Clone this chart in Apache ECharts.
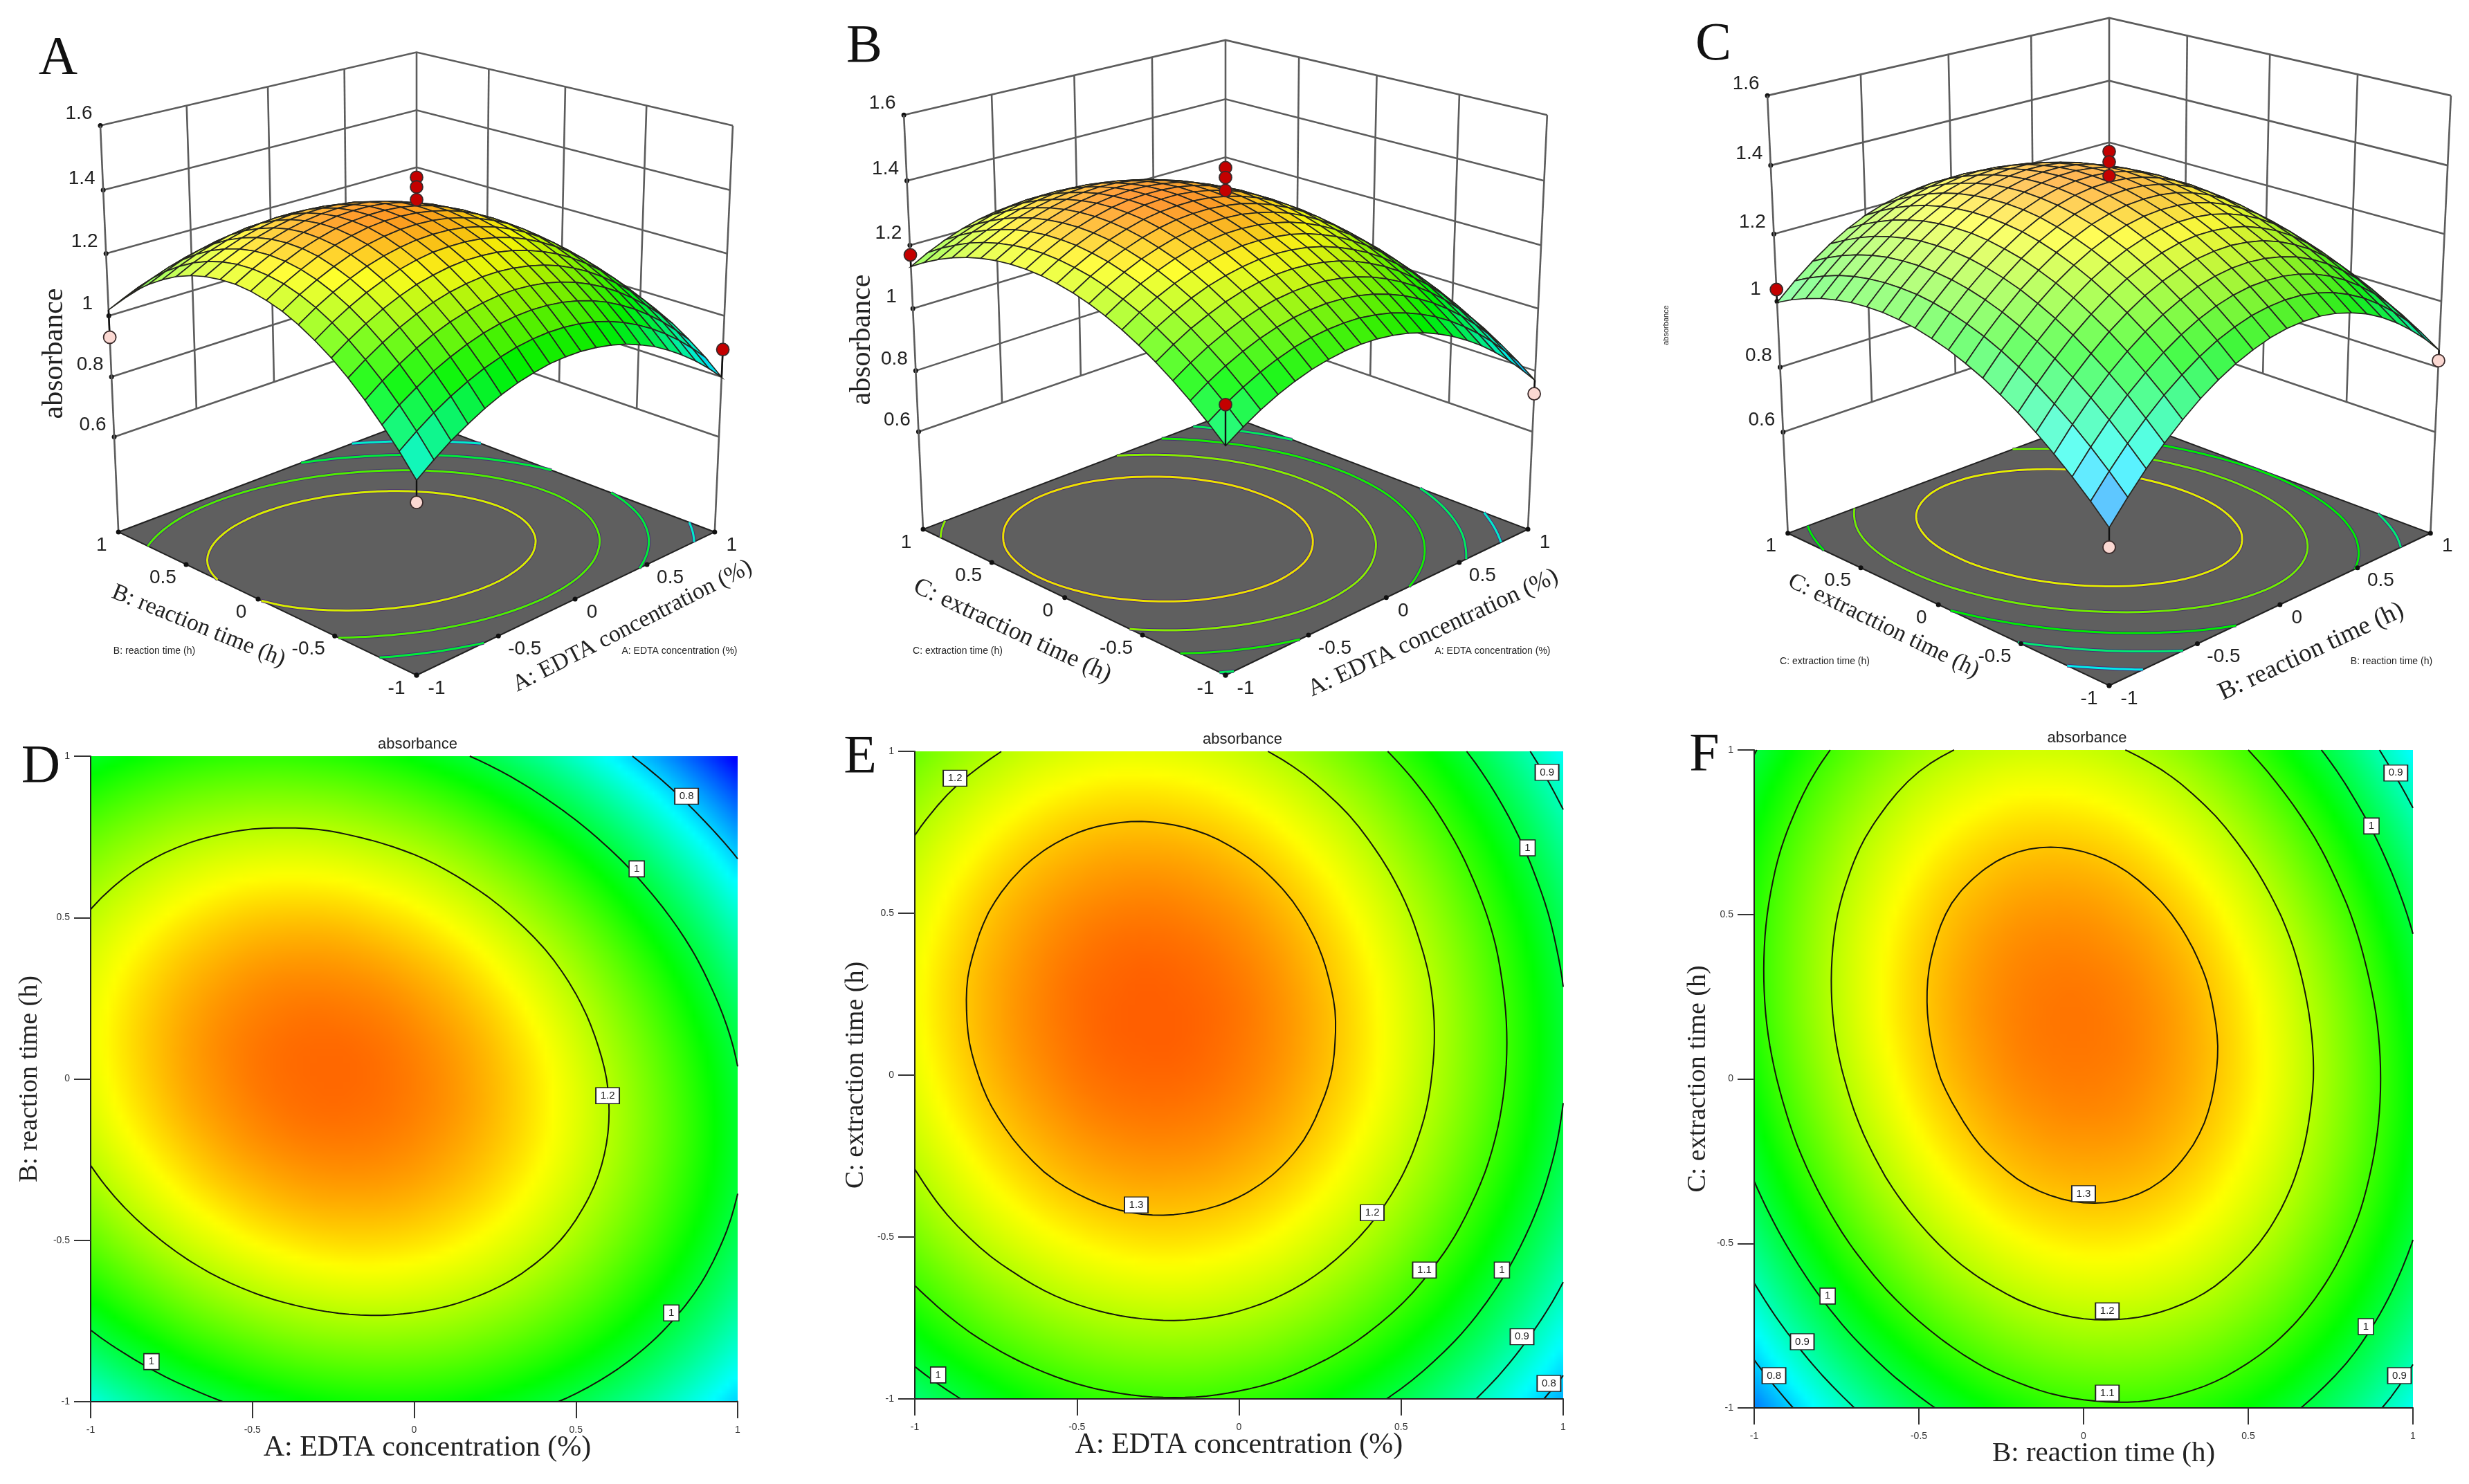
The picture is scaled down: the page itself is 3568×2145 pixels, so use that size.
<!DOCTYPE html>
<html><head><meta charset="utf-8">
<style>html,body{margin:0;background:#fff}#c{width:3568px;height:2145px}</style>
<script src="https://cdn.jsdelivr.net/npm/echarts@6/dist/echarts.min.js"></script></head>
<body><div id="c"></div>
<script>
// Absorbance (in thousandths) estimated from the picture on the 21 x 21 mesh of the plots; first factor -1..1 left to right, second factor -1..1 in row order.
const factorLevels=[-1,-.9,-.8,-.7,-.6,-.5,-.4,-.3,-.2,-.1,0,.1,.2,.3,.4,.5,.6,.7,.8,.9,1];
const tableAB=[
[865,905,941,971,998,1020,1037,1049,1058,1061,1060,1054,1044,1030,1010,987,958,925,888,846,799],
[930,969,1004,1034,1059,1080,1096,1108,1115,1118,1116,1110,1099,1083,1063,1038,1009,975,937,894,847],
[988,1027,1060,1090,1114,1134,1150,1161,1167,1169,1166,1159,1147,1131,1110,1084,1054,1019,980,936,888],
[1041,1079,1111,1140,1164,1183,1197,1207,1213,1214,1210,1202,1189,1172,1150,1124,1093,1057,1017,973,924],
[1088,1124,1156,1184,1207,1225,1239,1248,1253,1253,1248,1239,1226,1208,1185,1158,1126,1089,1049,1003,953],
[1129,1164,1195,1222,1244,1262,1274,1283,1287,1286,1281,1271,1256,1237,1214,1186,1153,1116,1074,1027,977],
[1163,1198,1228,1254,1275,1292,1304,1312,1314,1313,1307,1296,1281,1261,1236,1207,1174,1136,1093,1046,994],
[1192,1226,1255,1280,1301,1316,1327,1334,1336,1334,1327,1315,1299,1278,1253,1223,1189,1150,1106,1058,1006],
[1215,1248,1276,1300,1320,1335,1345,1351,1352,1349,1341,1328,1311,1290,1264,1233,1198,1158,1114,1065,1011],
[1231,1264,1291,1315,1333,1347,1357,1362,1362,1358,1349,1336,1318,1295,1268,1237,1201,1160,1115,1065,1011],
[1242,1273,1300,1323,1340,1354,1362,1366,1366,1361,1351,1337,1318,1295,1267,1235,1198,1156,1110,1059,1004],
[1247,1277,1303,1325,1342,1354,1362,1365,1364,1358,1347,1332,1313,1288,1260,1226,1188,1146,1099,1048,992],
[1245,1275,1300,1321,1337,1348,1355,1358,1355,1349,1337,1321,1301,1276,1246,1212,1173,1130,1082,1030,973],
[1238,1267,1291,1311,1326,1337,1343,1344,1341,1334,1321,1305,1283,1257,1227,1192,1152,1108,1060,1006,949],
[1225,1253,1276,1295,1309,1319,1324,1325,1321,1312,1299,1282,1260,1233,1202,1166,1125,1080,1031,977,918],
[1206,1233,1255,1273,1287,1296,1300,1300,1295,1285,1272,1253,1230,1202,1170,1134,1092,1046,996,941,882],
[1180,1206,1228,1245,1258,1266,1269,1268,1263,1252,1238,1218,1194,1166,1133,1095,1053,1006,955,899,839],
[1149,1174,1195,1211,1223,1230,1233,1231,1224,1213,1198,1178,1153,1123,1090,1051,1008,961,908,852,791],
[1112,1136,1156,1172,1182,1189,1190,1188,1180,1168,1152,1131,1105,1075,1040,1001,957,909,856,798,736],
[1068,1092,1111,1126,1136,1141,1142,1138,1130,1117,1100,1078,1052,1021,985,945,900,851,797,738,676],
[1019,1042,1060,1074,1083,1088,1088,1083,1074,1060,1042,1019,992,960,924,882,837,787,732,673,609]];
const tableAC=[
[953,987,1017,1042,1062,1078,1089,1096,1098,1096,1089,1078,1062,1041,1016,986,952,913,870,821,769],
[1000,1034,1063,1088,1108,1124,1135,1141,1143,1141,1133,1122,1105,1084,1059,1029,994,955,912,863,811],
[1043,1077,1106,1130,1150,1165,1176,1182,1184,1181,1174,1162,1145,1124,1098,1068,1033,994,950,901,848],
[1082,1115,1144,1168,1188,1203,1213,1219,1221,1218,1210,1198,1181,1159,1133,1103,1068,1028,984,935,882],
[1117,1150,1179,1202,1222,1237,1247,1253,1254,1250,1242,1230,1213,1191,1165,1134,1098,1059,1014,965,911],
[1148,1181,1209,1233,1252,1266,1276,1282,1283,1279,1271,1258,1240,1218,1192,1161,1125,1085,1040,991,937],
[1175,1208,1236,1259,1278,1292,1302,1307,1307,1303,1295,1282,1264,1242,1215,1184,1148,1107,1062,1013,959],
[1198,1230,1258,1281,1300,1314,1323,1328,1328,1324,1315,1302,1284,1261,1234,1203,1167,1126,1081,1031,976],
[1217,1249,1276,1299,1317,1331,1340,1345,1345,1341,1331,1318,1300,1277,1249,1218,1181,1140,1095,1045,990],
[1232,1264,1291,1313,1331,1345,1354,1358,1358,1353,1344,1330,1311,1288,1261,1229,1192,1151,1105,1054,999],
[1243,1274,1301,1324,1341,1355,1363,1367,1367,1362,1352,1338,1319,1296,1268,1236,1198,1157,1111,1060,1005],
[1250,1281,1308,1330,1347,1360,1369,1372,1372,1366,1356,1342,1323,1299,1271,1238,1201,1159,1113,1062,1007],
[1253,1284,1310,1332,1349,1362,1370,1373,1372,1367,1357,1342,1323,1299,1270,1237,1200,1158,1111,1060,1004],
[1252,1283,1309,1330,1347,1360,1367,1371,1369,1363,1353,1338,1318,1294,1266,1233,1195,1152,1105,1054,998],
[1247,1277,1303,1324,1341,1353,1361,1364,1362,1356,1345,1330,1310,1286,1257,1223,1185,1143,1096,1044,987],
[1238,1268,1294,1315,1331,1343,1350,1353,1351,1344,1334,1318,1298,1273,1244,1210,1172,1129,1082,1030,973],
[1225,1255,1280,1301,1317,1328,1335,1338,1336,1329,1318,1302,1282,1257,1227,1193,1155,1111,1064,1011,955],
[1208,1238,1262,1283,1299,1310,1317,1319,1317,1310,1298,1282,1261,1236,1206,1172,1133,1090,1042,989,932],
[1187,1216,1241,1261,1277,1288,1294,1296,1293,1286,1274,1258,1237,1212,1182,1147,1108,1064,1016,963,906],
[1162,1191,1215,1235,1251,1261,1268,1269,1266,1259,1247,1230,1209,1183,1153,1118,1079,1035,986,933,875],
[1133,1162,1186,1206,1221,1231,1237,1238,1235,1227,1215,1198,1177,1151,1120,1085,1045,1001,952,899,841]];
const tableBC=[
[726,789,847,898,943,983,1016,1043,1064,1080,1089,1092,1090,1081,1066,1046,1019,986,947,903,852],
[778,840,897,947,992,1030,1063,1090,1110,1125,1133,1136,1133,1123,1108,1086,1059,1025,986,941,889],
[825,887,943,993,1036,1074,1106,1132,1152,1166,1174,1175,1171,1161,1145,1123,1095,1061,1021,974,922],
[868,930,985,1034,1077,1114,1145,1170,1190,1203,1210,1211,1206,1195,1179,1156,1127,1092,1051,1004,951],
[908,968,1023,1071,1114,1150,1181,1205,1223,1236,1242,1243,1237,1226,1208,1184,1155,1119,1078,1030,976],
[944,1003,1057,1105,1146,1182,1212,1235,1253,1265,1271,1270,1264,1252,1233,1209,1179,1142,1100,1052,998],
[975,1034,1087,1134,1175,1210,1239,1262,1279,1290,1295,1294,1287,1274,1255,1230,1199,1162,1119,1070,1015],
[1003,1061,1113,1159,1200,1234,1262,1284,1301,1311,1315,1313,1306,1292,1272,1246,1215,1177,1133,1083,1028],
[1026,1084,1135,1181,1220,1254,1281,1303,1318,1328,1331,1329,1321,1306,1286,1259,1227,1188,1144,1093,1037],
[1046,1102,1153,1198,1237,1270,1296,1317,1332,1341,1344,1341,1331,1316,1295,1268,1235,1195,1150,1099,1042],
[1061,1117,1167,1211,1249,1282,1308,1328,1342,1350,1352,1348,1338,1322,1300,1273,1239,1199,1153,1101,1043],
[1073,1128,1177,1221,1258,1289,1315,1334,1348,1355,1356,1352,1341,1324,1302,1273,1239,1198,1151,1099,1040],
[1080,1135,1183,1226,1263,1293,1318,1337,1349,1356,1357,1351,1340,1323,1299,1270,1235,1193,1146,1093,1033],
[1084,1137,1185,1227,1263,1293,1317,1335,1347,1353,1353,1347,1335,1317,1293,1263,1227,1184,1136,1082,1022],
[1083,1136,1183,1225,1260,1289,1312,1330,1341,1346,1345,1338,1326,1307,1282,1251,1215,1172,1123,1068,1007],
[1079,1131,1178,1218,1253,1281,1304,1320,1331,1335,1334,1326,1313,1293,1268,1236,1199,1155,1106,1050,989],
[1070,1122,1168,1207,1241,1269,1291,1306,1316,1320,1318,1310,1295,1275,1249,1217,1178,1134,1084,1028,966],
[1058,1109,1154,1193,1226,1253,1274,1289,1298,1301,1298,1289,1274,1253,1226,1193,1154,1110,1059,1002,939],
[1041,1091,1136,1174,1206,1233,1253,1267,1276,1278,1274,1265,1249,1227,1200,1166,1126,1081,1029,972,908],
[1021,1070,1114,1151,1183,1209,1228,1242,1250,1251,1247,1236,1220,1198,1169,1135,1094,1048,996,937,873],
[996,1045,1088,1125,1156,1181,1199,1212,1219,1220,1215,1204,1187,1164,1135,1100,1058,1011,959,899,834]];
// Design points: [first factor, second factor, absorbance, 1 = above surface (red) / 0 = below (pink)]
const pointsAB=[[0,0,1.44,1],[0,0,1.41,1],[0,0,1.37,1],[-1,1,.93,0],[1,-1,.89,1],[-1,-1,.80,0]];
const pointsAC=[[0,0,1.44,1],[0,0,1.41,1],[0,0,1.37,1],[-1,1,1.17,1],[1,-1,.725,0],[-1,-1,1.07,1]];
const pointsBC=[[0,0,1.44,1],[0,0,1.41,1],[0,0,1.37,1],[-1,1,1.035,1],[1,-1,.82,0],[-1,-1,.672,0]];
const zTicks=[.6,.8,1,1.2,1.4,1.6];
const floorTicks=[-1,-.5,0,.5,1];
const floorLevelsA=[.87,1,1.12,1.24], floorLevelsB=[.87,.97,1.07,1.17,1.27], floorLevelsC=[.84,.95,1.05,1.15,1.25];
const levelsD=[.8,1,1.2], levelsEF=[.8,.9,1,1.1,1.2,1.3];
const labelsD=[[.842,.876,'0.8'],[.688,.651,'1'],[.598,-.052,'1.2'],[.795,-.725,'1'],[-.812,-.876,'1']];
const labelsE=[[-.876,.917,'1.2'],[.95,.935,'0.9'],[.89,.702,'1'],[-.317,-.401,'1.3'],[.411,-.425,'1.2'],[.572,-.602,'1.1'],[.811,-.602,'1'],[.873,-.808,'0.9'],[.956,-.952,'0.8'],[-.928,-.926,'1']];
const labelsF=[[.948,.93,'0.9'],[.874,.769,'1'],[0,-.349,'1.3'],[.072,-.705,'1.2'],[.072,-.955,'1.1'],[-.777,-.66,'1'],[-.854,-.799,'0.9'],[-.94,-.902,'0.8'],[.857,-.753,'1'],[.959,-.902,'0.9']];

const SERIF='"Liberation Serif",serif', SANS='"Liberation Sans",Arial,sans-serif';
const colorStops=[[.62,0,0,255],[.84,0,255,255],[1.05,0,255,0],[1.26,255,255,0],[1.44,255,0,0]];
function colorOf(z){
  if(z<=colorStops[0][0])return colorStops[0].slice(1);
  for(let k=1;k<colorStops.length;k++){const s=colorStops[k];
    if(z<=s[0]){const r=colorStops[k-1],t=(z-r[0])/(s[0]-r[0]);return [1,2,3].map(i=>r[i]+(s[i]-r[i])*t);}}
  return colorStops[colorStops.length-1].slice(1);
}
function lag(t){return [-(t-1)*(t-2)*(t-3)/6,t*(t-2)*(t-3)/2,-t*(t-1)*(t-3)/2,t*(t-1)*(t-2)/6];}
// Display-only shading between table nodes, used for the raster and for tracing iso-lines.
function shade(T,x,y){
  const tx=(x+1)*10,ty=(y+1)*10,i0=Math.max(0,Math.min(17,Math.floor(tx)-1)),j0=Math.max(0,Math.min(17,Math.floor(ty)-1));
  const wx=lag(tx-i0),wy=lag(ty-j0);let s=0;
  for(let j=0;j<4;j++)for(let i=0;i<4;i++)s+=wy[j]*wx[i]*T[j0+j][i0+i];
  return s/1000;
}
function raster(T,N){
  const c=document.createElement('canvas');c.width=c.height=N;
  const g=c.getContext('2d'),d=g.createImageData(N,N);
  for(let r=0;r<N;r++)for(let q=0;q<N;q++){
    const col=colorOf(shade(T,-1+(q+.5)*2/N,1-(r+.5)*2/N)),o=(r*N+q)*4;
    d.data[o]=col[0];d.data[o+1]=col[1];d.data[o+2]=col[2];d.data[o+3]=255;}
  g.putImageData(d,0,0);return c;
}
function isolines(T,L){
  const M=60,f=[];for(let j=0;j<=M;j++){f.push([]);for(let i=0;i<=M;i++)f[j].push(shade(T,-1+2*i/M,-1+2*j/M)-L);}
  const pts={},adj={};
  const cross=(key,i1,j1,i2,j2)=>{const a=f[j1][i1],b=f[j2][i2];if((a<0)===(b<0))return null;
    const t=a/(a-b);pts[key]=[-1+2*(i1+(i2-i1)*t)/M,-1+2*(j1+(j2-j1)*t)/M];return key;};
  const link=(a,b)=>{(adj[a]=adj[a]||[]).push(b);(adj[b]=adj[b]||[]).push(a);};
  for(let j=0;j<M;j++)for(let i=0;i<M;i++){
    const e=[cross('h'+i+'_'+j,i,j,i+1,j),cross('v'+(i+1)+'_'+j,i+1,j,i+1,j+1),cross('h'+i+'_'+(j+1),i,j+1,i+1,j+1),cross('v'+i+'_'+j,i,j,i,j+1)].filter(Boolean);
    if(e.length>=2)link(e[0],e[1]);if(e.length===4)link(e[2],e[3]);
  }
  const seen={},out=[];
  const walk=s=>{const p=[];let cur=s,prev=null;
    while(cur&&!seen[cur]){seen[cur]=1;p.push(pts[cur]);const n=(adj[cur]||[]).find(k=>k!==prev&&!seen[k]);prev=cur;cur=n;}
    const first=adj[s]||[];if(p.length>2&&first.includes(prev))p.push(pts[s]);
    return p;};
  Object.keys(adj).filter(k=>adj[k].length===1).forEach(k=>{if(!seen[k])out.push(walk(k));});
  Object.keys(adj).forEach(k=>{if(!seen[k])out.push(walk(k));});
  return out;
}
function projector(P){return (a,b,z)=>{
  const u=(a+1)/2,v=(b+1)/2,zp=(z-P.z0)/(1.6-P.z0),w=1+P.p*(u+v)+P.q*zp;
  return [P.cx+P.Rx*(u-v)/w,P.Y0-(P.Dy*(u+v)+P.Hz*zp)/w];};}

const series=[];const titles=[];
const wallLine={stroke:'#5c5c5c',lineWidth:2.6,fill:null};
function txt(x,y,t,size,family,rot,color){return {type:'text',x,y,rotation:rot||0,style:{text:t,fontSize:size,fontFamily:family,fill:color||'#222',align:'center',verticalAlign:'middle'}};}
function poly(points,stroke,w){return {type:'polyline',shape:{points},style:{stroke,lineWidth:w,fill:null}};}

const panels3D=[
 {T:tableAB,pts:pointsAB,lv:floorLevelsA,P:{cx:602,Y0:976,Rx:489,Dy:235,Hz:615,p:.135,q:-.065,z0:.276},base:.16,
  zName:{x:79,y:511,s:42},rTitle:{t:'A: EDTA concentration (%)',x:914,y:905,s:34,a:27},lTitle:{t:'B: reaction time (h)',x:287,y:905,s:34,a:22},
  rSmall:{t:'A: EDTA concentration (%)',x:982,y:941},lSmall:{t:'B: reaction time (h)',x:223,y:941}},
 {T:tableAC,pts:pointsAC,lv:floorLevelsB,P:{cx:1771,Y0:976,Rx:496,Dy:239.5,Hz:624.5,p:.135,q:-.068,z0:.2725},base:.2,
  zName:{x:1246,y:491,s:42},rTitle:{t:'A: EDTA concentration (%)',x:2071,y:915,s:35,a:25},lTitle:{t:'C: extraction time (h)',x:1463,y:912,s:36,a:25},
  rSmall:{t:'A: EDTA concentration (%)',x:2157,y:941},lSmall:{t:'C: extraction time (h)',x:1384,y:941}},
 {T:tableBC,pts:pointsBC,lv:floorLevelsC,P:{cx:3048,Y0:991,Rx:527,Dy:250,Hz:660,p:.135,q:-.068,z0:.28},base:.33,
  zName:{x:2408,y:470,s:11},rTitle:{t:'B: reaction time (h)',x:3340,y:942,s:37,a:25},lTitle:{t:'C: extracttion time (h)',x:2722,y:905,s:34,a:26},
  rSmall:{t:'B: reaction time (h)',x:3456,y:956},lSmall:{t:'C: extraction time (h)',x:2637,y:956}}
];
panels3D.forEach(pn=>{
  const pr=projector(pn.P),z0=pn.P.z0;
  // frame, floor, contours, ticks and text
  series.push({type:'custom',coordinateSystem:'none',silent:true,z:2,data:[0],renderItem(){
    const ch=[];
    ch.push({type:'polygon',shape:{points:[pr(-1,-1,z0),pr(1,-1,z0),pr(1,1,z0),pr(-1,1,z0)]},style:{fill:'#5f5f5f',stroke:'#222',lineWidth:2}});
    pn.lv.forEach(L=>isolines(pn.T,L).forEach(l=>{
      const p=l.map(q=>pr(q[0],q[1],z0)),c=colorOf(L).map(v=>Math.round(v*.93));
      ch.push(poly(p,'rgba(70,40,120,.85)',5));ch.push(poly(p,'rgb('+c+')',3));}));
    zTicks.forEach(z=>{
      ch.push({type:'polyline',shape:{points:[pr(-1,1,z),pr(1,1,z),pr(1,-1,z)]},style:wallLine});
      const t=pr(-1,1,z);
      ch.push({type:'circle',shape:{cx:t[0],cy:t[1],r:3.5},style:{fill:'#111'}});
      ch.push(txt(t[0]-31,t[1]-17,String(z),28,SANS));
    });
    [-.5,0,.5].forEach(k=>{
      ch.push(poly([pr(k,1,.6),pr(k,1,1.6)],'#5c5c5c',2.6));
      ch.push(poly([pr(1,k,.6),pr(1,k,1.6)],'#5c5c5c',2.6));
    });
    ch.push(poly([pr(1,1,.6),pr(1,1,1.6)],'#5c5c5c',2.6));
    ch.push(poly([pr(-1,1,z0),pr(-1,1,1.6)],'#5c5c5c',2.6));
    ch.push(poly([pr(1,-1,z0),pr(1,-1,1.6)],'#5c5c5c',2.6));
    floorTicks.forEach(k=>{
      const l=pr(-1,k,z0),r=pr(k,-1,z0),s=String(k),d=20+s.length*4.5;
      ch.push({type:'circle',shape:{cx:l[0],cy:l[1],r:3.5},style:{fill:'#111'}});
      ch.push({type:'circle',shape:{cx:r[0],cy:r[1],r:3.5},style:{fill:'#111'}});
      ch.push(txt(l[0]-d,l[1]+19,s,28,SANS));ch.push(txt(r[0]+d,r[1]+19,s,28,SANS));
    });
    ch.push(txt(pn.zName.x,pn.zName.y,'absorbance',pn.zName.s,pn.zName.s<20?SANS:SERIF,Math.PI/2));
    ch.push(txt(pn.rTitle.x,pn.rTitle.y,pn.rTitle.t,pn.rTitle.s,SERIF,pn.rTitle.a*Math.PI/180));
    ch.push(txt(pn.lTitle.x,pn.lTitle.y,pn.lTitle.t,pn.lTitle.s,SERIF,-pn.lTitle.a*Math.PI/180));
    ch.push(txt(pn.rSmall.x,pn.rSmall.y,pn.rSmall.t,14,SANS));
    ch.push(txt(pn.lSmall.x,pn.lSmall.y,pn.lSmall.t,14,SANS));
    return {type:'group',children:ch};
  }});
  // surface cells, back to front
  const cells=[];
  for(let j=0;j<20;j++)for(let i=0;i<20;i++)cells.push([i,j]);
  cells.sort((m,n)=>(n[0]+n[1])-(m[0]+m[1]));
  series.push({type:'custom',coordinateSystem:'none',silent:true,z:3,data:cells,renderItem(_,api){
    const i=api.value(0),j=api.value(1),T=pn.T,f=factorLevels;
    const zz=[T[j][i],T[j][i+1],T[j+1][i+1],T[j+1][i]].map(v=>v/1000);
    const col=colorOf((zz[0]+zz[1]+zz[2]+zz[3])/4-.02);
    const gu=((zz[1]+zz[2])-(zz[0]+zz[3]))/2/.1, gv=((zz[2]+zz[3])-(zz[0]+zz[1]))/2/.1, s=gu-gv;
    const wh=Math.max(0,Math.min(.6,pn.base+.35*s)),dk=s<0?Math.max(.93,1+.12*s):1;
    const c=col.map(v=>Math.round((v+(255-v)*wh)*dk));
    return {type:'polygon',shape:{points:[pr(f[i],f[j],zz[0]),pr(f[i+1],f[j],zz[1]),pr(f[i+1],f[j+1],zz[2]),pr(f[i],f[j+1],zz[3])]},
      style:{fill:'rgb('+c+')',stroke:'#262620',lineWidth:1.7}};
  }});
  // design points
  series.push({type:'custom',coordinateSystem:'none',silent:true,z:4,data:pn.pts,renderItem(_,api){
    const a=api.value(0),b=api.value(1),z=api.value(2),red=api.value(3);
    const p=pr(a,b,z),q=pr(a,b,shade(pn.T,a,b));
    return {type:'group',children:[poly([p,q],'#111',2.4),
      {type:'circle',shape:{cx:p[0],cy:p[1],r:9},style:{fill:red?'#c40000':'#fbd8d2',stroke:'#3a2a2a',lineWidth:1.8}}]};
  }});
});

const panels2D=[
 {T:tableAB,g:{left:131,top:1093,width:935,height:933},x:'A: EDTA concentration (%)',y:'B: reaction time (h)',lv:levelsD,lb:labelsD,yName:88,nx:42,pad:38},
 {T:tableAC,g:{left:1322,top:1086,width:937,height:936},x:'A: EDTA concentration (%)',y:'C: extraction time (h)',lv:levelsEF,lb:labelsE,yName:85,nx:42,pad:0},
 {T:tableBC,g:{left:2535,top:1084,width:952,height:951},x:'B: reaction time (h)',y:'C: extraction time (h)',lv:levelsEF,lb:labelsF,yName:81,nx:41,pad:58}
];
const grids=[],xAxes=[],yAxes=[];
panels2D.forEach((pn,k)=>{
  grids.push(pn.g);
  const ax={type:'value',min:-1,max:1,interval:.5,splitLine:{show:false},z:5,nameLocation:'middle',nameMoveOverlap:false,
    axisLine:{show:true,onZero:false,lineStyle:{color:'#222',width:2}},axisTick:{show:true,length:24,lineStyle:{color:'#333',width:2}},
    nameTextStyle:{fontFamily:SERIF,color:'#222'}};
  xAxes.push({...ax,gridIndex:k,name:pn.x,nameGap:46,nameTextStyle:{...ax.nameTextStyle,fontSize:pn.nx,padding:[0,0,0,pn.pad]},axisLabel:{fontSize:14,color:'#333',margin:34,fontFamily:SANS}});
  yAxes.push({...ax,gridIndex:k,name:pn.y,nameGap:pn.yName-19,nameTextStyle:{...ax.nameTextStyle,fontSize:38},axisLabel:{fontSize:14,color:'#333',margin:30,fontFamily:SANS}});
  const nodes=[];pn.T.forEach((row,j)=>row.forEach((v,i)=>nodes.push([factorLevels[i],factorLevels[j],v/1000])));
  const img=raster(pn.T,96);
  series.push({type:'custom',xAxisIndex:k,yAxisIndex:k,silent:true,z:1,data:nodes,renderItem(p,api){
    if(p.dataIndex)return null;
    const a=api.coord([-1,1]),b=api.coord([1,-1]);
    return {type:'image',style:{image:img,x:a[0],y:a[1],width:b[0]-a[0],height:b[1]-a[1]}};
  }});
  pn.lv.forEach(L=>isolines(pn.T,L).forEach(l=>series.push({type:'line',xAxisIndex:k,yAxisIndex:k,data:l,symbol:'none',silent:true,z:2,lineStyle:{color:'#15150c',width:2}})));
  series.push({type:'scatter',xAxisIndex:k,yAxisIndex:k,data:pn.lb,silent:true,z:3,symbol:'rect',
    symbolSize:(v)=>[v[2].length>1?34:22,23],itemStyle:{color:'#fff',borderColor:'#222',borderWidth:1.6,opacity:1},
    label:{show:true,position:'inside',formatter:p=>p.value[2],fontSize:15,color:'#222',fontFamily:SANS}});
  const c=pn.g.left+pn.g.width/2;
  titles.push({text:'absorbance',left:c,top:pn.g.top-22,textAlign:'center',textVerticalAlign:'middle',textStyle:{fontSize:22,fontWeight:'normal',color:'#222',fontFamily:SANS}});
});
[['A',79,81],['B',1244,64],['C',2471,61],['D',54,1105],['E',1238,1091],['F',2458,1088]].forEach(t=>
  titles.push({text:t[0],left:t[1],top:t[2],textAlign:'center',textVerticalAlign:'middle',textStyle:{fontSize:78,fontWeight:'normal',color:'#111',fontFamily:SERIF}}));

const chart=echarts.init(document.getElementById('c'),null,{renderer:'canvas'});
chart.setOption({animation:false,backgroundColor:'#fff',title:titles,grid:grids,xAxis:xAxes,yAxis:yAxes,series});
</script></body></html>
